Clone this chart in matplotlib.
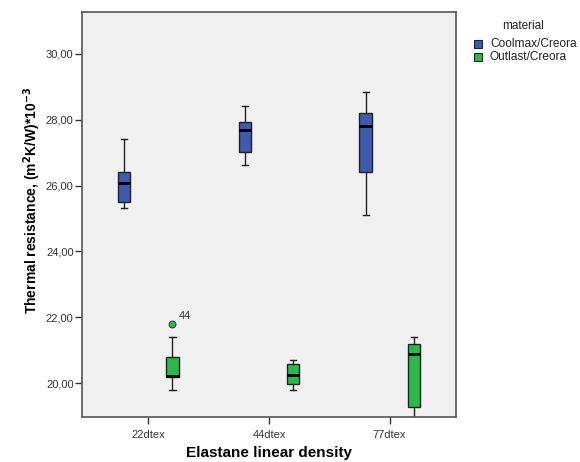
import matplotlib
matplotlib.use("Agg")
import matplotlib.pyplot as plt
from matplotlib.patches import Rectangle

plt.rcParams['font.family'] = ['Liberation Sans', 'DejaVu Sans']

# data
densities = ['22dtex', '44dtex', '77dtex']
materials = ['Coolmax/Creora', 'Outlast/Creora']
colors = ['#3F5BAD', '#2DB84B']

# per material: whisker low, q1, median, q3, whisker high
coolmax_lo = [25.31, 26.62, 25.11]
coolmax_q1 = [25.51, 27.02, 26.42]
coolmax_med = [26.07, 27.68, 27.82]
coolmax_q3 = [26.42, 27.92, 28.21]
coolmax_hi = [27.42, 28.42, 28.83]

outlast_lo = [19.79, 19.79, 18.90]
outlast_q1 = [20.18, 19.98, 19.28]
outlast_med = [20.20, 20.24, 20.89]
outlast_q3 = [20.80, 20.58, 21.20]
outlast_hi = [21.39, 20.70, 21.39]

# outliers: (density index, value, case label)
outlast_fliers = [(0, 21.80, '44')]


def make_stats(lo, q1, med, q3, hi, fliers=()):
    stats = []
    for i in range(len(lo)):
        fl = [v for (j, v, _) in fliers if j == i]
        stats.append(dict(whislo=lo[i], q1=q1[i], med=med[i], q3=q3[i],
                          whishi=hi[i], fliers=fl))
    return stats


W, H = 580, 462
fig = plt.figure(figsize=(W / 100, H / 100), dpi=100)
ax = fig.add_axes([82 / W, 1 - 417 / H, 374 / W, 405 / H])
ax.set_facecolor('#F0F0F0')

groups = [
    make_stats(coolmax_lo, coolmax_q1, coolmax_med, coolmax_q3, coolmax_hi),
    make_stats(outlast_lo, outlast_q1, outlast_med, outlast_q3, outlast_hi,
               outlast_fliers),
]
offsets = [-0.2, 0.2]

for stats, off, col in zip(groups, offsets, colors):
    pos = [i + off for i in range(len(densities))]
    ax.bxp(stats, positions=pos, widths=0.1, patch_artist=True,
           showfliers=True, capwidths=0.05,
           boxprops=dict(facecolor=col, edgecolor='#222222', linewidth=1.0),
           medianprops=dict(color='black', linewidth=2.0),
           whiskerprops=dict(color='#222222', linewidth=1.0),
           capprops=dict(color='#222222', linewidth=1.0),
           flierprops=dict(marker='o', markerfacecolor=col,
                           markeredgecolor='#222222', markersize=5,
                           markeredgewidth=0.6))

for j, v, lab in outlast_fliers:
    ax.text(j + offsets[1] + 0.05, v + 0.08, lab, fontsize=8, color='#333333',
            ha='left', va='bottom')

ax.set_xlim(-0.55, 2.55)
ax.set_ylim(18.97, 31.27)
ax.set_xticks(range(len(densities)))
ax.set_xticklabels(densities)
yt = [20, 22, 24, 26, 28, 30]
ax.set_yticks(yt)
ax.set_yticklabels([('%.2f' % v).replace('.', ',') for v in yt])
ax.tick_params(labelsize=8, colors='#333333', length=5, width=1)
ax.tick_params(axis='y', pad=1)
ax.tick_params(axis='x', pad=4)

for s in ax.spines.values():
    s.set_color('#555555')
    s.set_linewidth(1.2)

ax.set_xlabel('Elastane linear density', fontsize=11, fontweight='bold',
              labelpad=5)
ax.set_ylabel(r'Thermal resistance, (m$^{\mathbf{2}}$K/W)*10$^{\mathbf{-3}}$',
              fontsize=10, fontweight='bold')
ax.yaxis.set_label_coords(-0.105, 0.535)

# legend drawn by hand to match the spacing
fig.text(523 / W, 1 - 26 / H, 'material', fontsize=8.5, color='#222222',
         ha='center', va='center')
for k, (m, c) in enumerate(zip(materials, colors)):
    yc = 44 + 12.5 * k
    fig.add_artist(Rectangle((474 / W, 1 - (yc + 4) / H), 8 / W, 8 / H,
                             transform=fig.transFigure, facecolor=c,
                             edgecolor='#222222', linewidth=0.8))
    fig.text(490 / W, 1 - yc / H, m, fontsize=8.6, color='#222222',
             ha='left', va='center')

fig.savefig('out.png', dpi=100)
